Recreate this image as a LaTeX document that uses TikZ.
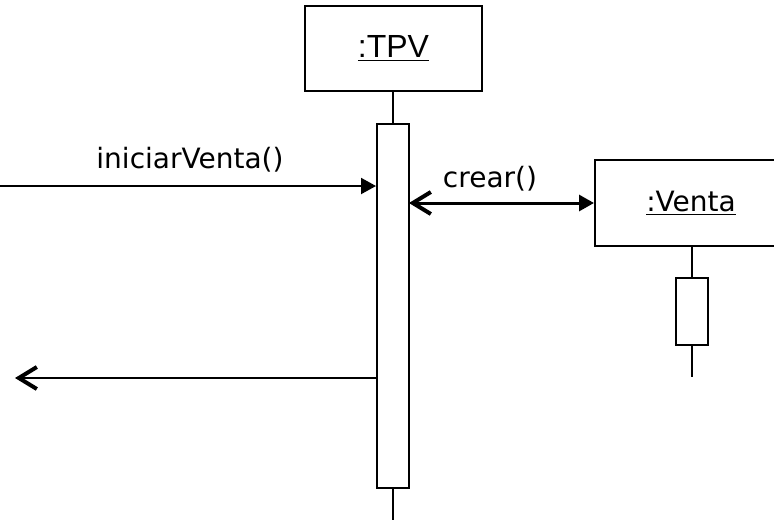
\documentclass[tikz,border=0pt]{standalone}
\usepackage{fontspec}
\setmainfont{DejaVu Sans}
\newfontfamily\arialfont{Liberation Sans}
\usetikzlibrary{arrows.meta,calc}

\begin{document}
\begin{tikzpicture}[x=0.5pt,y=-0.5pt,line width=1pt,
  object/.style={rectangle,draw,line width=1pt,inner sep=0pt},
  activation/.style={rectangle,draw,line width=1pt,fill=white,inner sep=0pt,minimum width=16pt},
  lifeline/.style={line width=1pt},
  msg/.style={-{Triangle[length=7.5pt,width=8pt]}},
  reply/.style={-{Straight Barb[length=9pt,width=11pt,line width=2pt]}},
  create/.style={line width=1.5pt,{Straight Barb[length=9pt,width=11pt,line width=2pt]}-{Triangle[length=7.5pt,width=8pt]}},
  lbl/.style={font=\fontsize{14pt}{16pt}\selectfont,inner sep=0pt}]

\clip (0,0) rectangle (774,520);

% Objects
\node[object,minimum width=88.5pt,minimum height=42.5pt,font=\arialfont\fontsize{16pt}{18pt}\selectfont] (tpv) at (393.5,48.5) {\underline{:TPV}};
\node[object,minimum width=96pt,minimum height=43pt,lbl] (venta) at (691,203) {\underline{:Venta}};

% Activations
\node[activation,minimum height=182pt] (act1) at (393,306) {};
\node[activation,minimum height=33.5pt] (act2) at (691.5,311.5) {};

\coordinate (end1) at (393,520);
\coordinate (end2) at (691.5,377);
\coordinate (in1) at (0,186);
\coordinate (out1) at (15,378);
\coordinate (c1) at (409,203);

% lifelines
\draw[lifeline] (act1.north |- tpv.south) -- (act1.north);
\draw[lifeline] (act1.south) -- (end1);
\draw[lifeline] (act2.north |- venta.south) -- (act2.north);
\draw[lifeline] (act2.south) -- (end2);

% messages
\draw[msg] (in1) -- (in1 -| act1.west);
\node[lbl] (l1) at (190,160) {iniciarVenta()};

\draw[create] (c1) -- (c1 -| venta.west);
\node[lbl] (l2) at (490,179) {crear()};

\draw[reply] (act1.west |- out1) -- (out1);

\end{tikzpicture}
\end{document}
